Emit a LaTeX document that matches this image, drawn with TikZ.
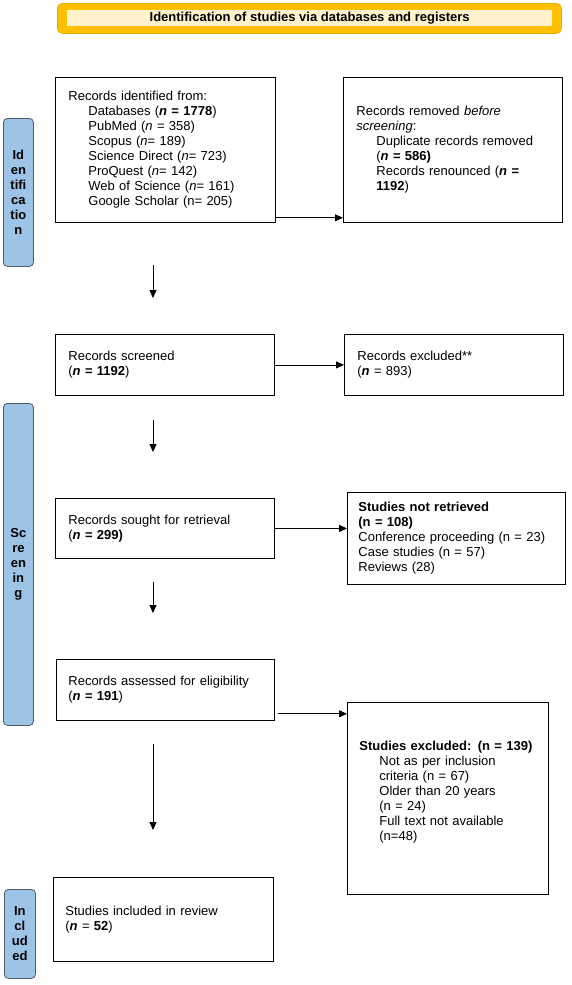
\documentclass[tikz,border=0pt]{standalone}
\usepackage{fontspec}
\setmainfont{Liberation Sans}
\usetikzlibrary{arrows.meta}
\definecolor{ttlorange}{HTML}{FFC000}
\definecolor{ttlborder}{HTML}{E5AC00}
\definecolor{ttlinner}{HTML}{FFF2CC}
\definecolor{sidefill}{HTML}{9DC3E6}
\definecolor{sidebd}{HTML}{4F5B66}
\tikzset{
  pbox/.style={draw=black, line width=0.8pt, anchor=north west, align=left,
    font=\fontsize{13}{15}\selectfont, inner ysep=0pt, inner xsep=13pt},
  side/.style={draw=sidebd, fill=sidefill, rounded corners=4pt, line width=0.8pt,
    anchor=north west, align=center, font=\bfseries\fontsize{13}{15}\selectfont,
    inner sep=0pt, minimum width=30pt},
  arr/.style={line width=0.8pt, -{Triangle[length=8pt,width=7pt]}}
}
\newcommand{\ind}{\hspace*{20pt}}
\begin{document}
\begin{tikzpicture}[x=1pt,y=-1pt]
\useasboundingbox (0,0) rectangle (572,985);
% title
\node[draw=ttlborder, fill=ttlorange, line width=0.8pt, rounded corners=5pt,
  minimum width=504pt, minimum height=30pt, anchor=north west, inner sep=0pt] (tout) at (57,3) {};
\node[fill=ttlinner, minimum width=485pt, minimum height=16pt, anchor=north west, inner sep=0pt] (tin) at (67,10) {};
\node[font=\bfseries\fontsize{13}{15}\selectfont, inner sep=0pt] (ttext) at (tin.center) {Identification of studies via databases and registers};
% sidebars
\node[side, minimum height=148pt] (s1) at (3,118) {Id\\en\\tifi\\ca\\tio\\n};
\node[side, minimum height=322pt] (s2) at (3,403) {Sc\\re\\en\\in\\g};
\node[side, minimum height=89pt, minimum width=31pt] (s3) at (4,889) {In\\cl\\ud\\ed};
% boxes
\node[pbox, text width=194pt, minimum height=145pt] (b1) at (55,77)
 {Records identified from:\\
  \ind Databases (\textbf{\textit{n} = 1778})\\
  \ind PubMed (\textit{n} = 358)\\
  \ind Scopus (\textit{n}= 189)\\
  \ind Science Direct (\textit{n}= 723)\\
  \ind ProQuest (\textit{n}= 142)\\
  \ind Web of Science (\textit{n}= 161)\\
  \ind Google Scholar (n= 205)};
\node[pbox, text width=193pt, minimum height=145pt] (b2) at (343,77)
 {Records removed \textit{before}\\
  \textit{screening}:\\
  \ind Duplicate records removed\\
  \ind (\textbf{\textit{n} = 586)}\\
  \ind Records renounced (\textbf{\textit{n} =}\\
  \ind \textbf{1192})};
\node[pbox, text width=193pt, minimum height=61pt] (b3) at (55,334)
 {Records screened\\ (\textbf{\textit{n} = 1192})};
\node[pbox, text width=193pt, minimum height=61pt] (b4) at (344,334)
 {Records excluded**\\ (\textbf{\textit{n}} = 893)};
\node[pbox, text width=193pt, minimum height=60pt] (b5) at (55,498)
 {Records sought for retrieval\\ (\textbf{\textit{n} = 299)}};
\node[pbox, inner xsep=11pt, text width=196pt, minimum height=92pt] (b6) at (347,492)
 {\textbf{Studies not retrieved}\\
  \textbf{(n = 108)}\\
  Conference proceeding (n = 23)\\
  Case studies (n = 57)\\
  Reviews (28)};
\node[pbox, inner xsep=12pt, text width=194pt, minimum height=61pt] (b7) at (56,659)
 {Records assessed for eligibility\\ (\textbf{\textit{n} = 191})};
\node[pbox, inner xsep=12pt, text width=196pt, minimum height=84pt] (b8) at (53,877)
 {Studies included in review\\ (\textbf{\textit{n}} = \textbf{52})};
\node[pbox, inner xsep=12pt, text width=177pt, minimum height=192pt] (b9) at (347,702)
 {\textbf{Studies excluded: (n = 139)}\\
  \ind Not as per inclusion\\
  \ind criteria (n = 67)\\
  \ind Older than 20 years\\
  \ind (n = 24)\\
  \ind Full text not available\\
  \ind (n=48)\\
  \mbox{}};
% connectors
\coordinate (a1s) at ([yshift=5pt]b1.south east);
\draw[arr] (a1s) -- (a1s -| b2.west);
\coordinate (a2s) at (153,265);
\coordinate (a2e) at (153,298);
\draw[arr] (a2s) -- (a2e);
\draw[arr] (b3.east) -- (b4.west);
\coordinate (a4s) at (153,420);
\coordinate (a4e) at (153,452);
\draw[arr] (a4s) -- (a4e);
\draw[arr] (b5.east) -- (b5.east -| b6.west);
\coordinate (a6s) at (153,582);
\coordinate (a6e) at (153,613);
\draw[arr] (a6s) -- (a6e);
\coordinate (a7s) at ([xshift=3pt,yshift=7pt]b7.south east);
\draw[arr] (a7s) -- (a7s -| b9.west);
\coordinate (a8s) at (153,744);
\coordinate (a8e) at (153,830);
\draw[arr] (a8s) -- (a8e);
\end{tikzpicture}
\end{document}
